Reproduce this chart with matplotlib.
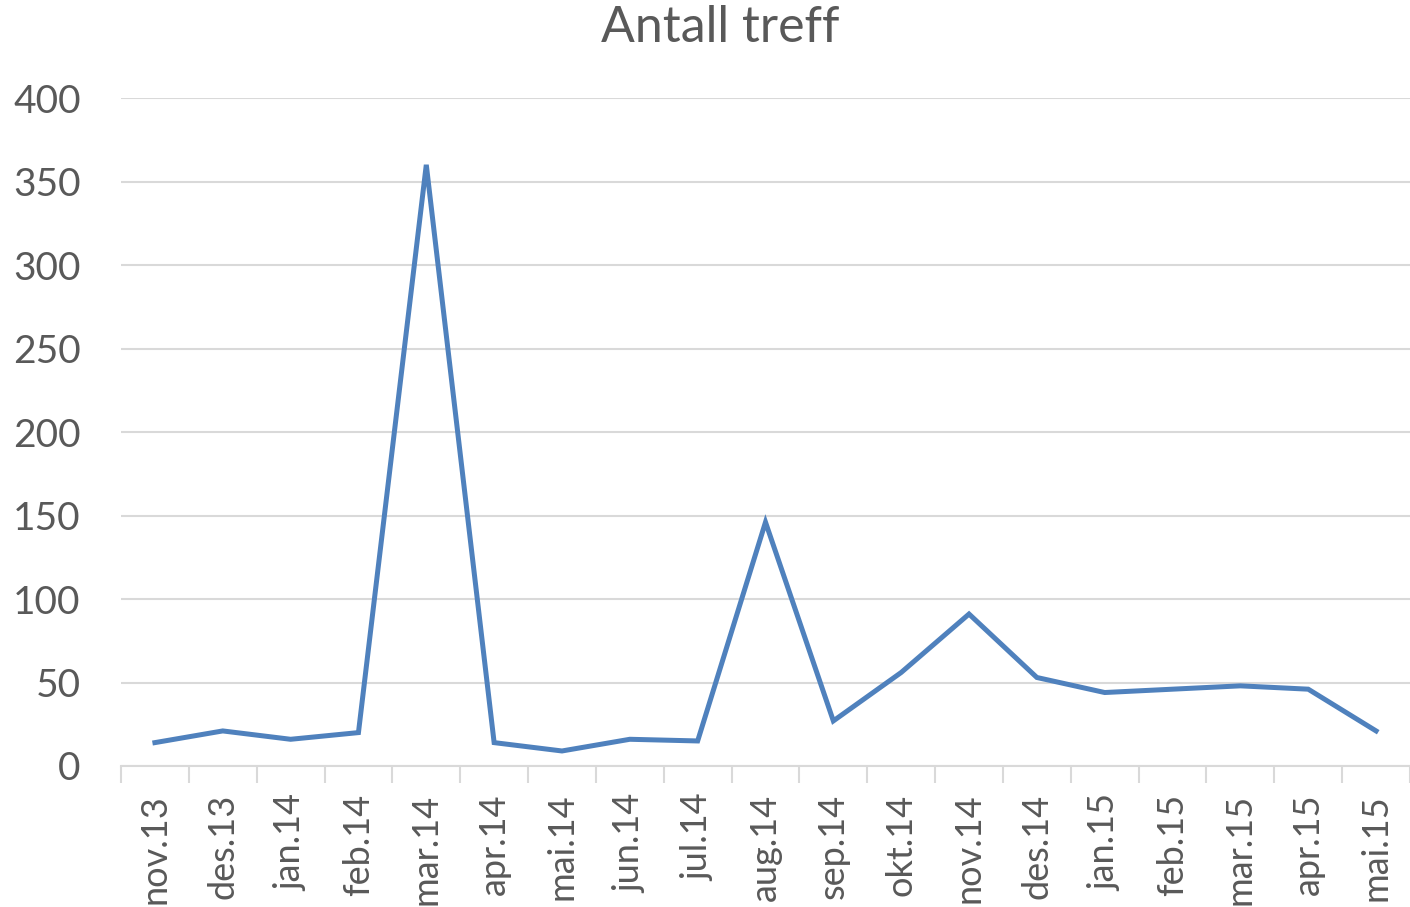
import matplotlib.pyplot as plt

months = ['nov.13', 'des.13', 'jan.14', 'feb.14', 'mar.14', 'apr.14', 'mai.14',
          'jun.14', 'jul.14', 'aug.14', 'sep.14', 'okt.14', 'nov.14', 'des.14',
          'jan.15', 'feb.15', 'mar.15', 'apr.15', 'mai.15']
hits = [14, 21, 16, 20, 360, 14, 9, 16, 15, 146, 27, 56, 91, 53, 44, 46, 48, 46, 21]

plt.rcParams['font.family'] = ['Lato', 'DejaVu Sans']
text_color = '#595959'

fig = plt.figure(figsize=(14.1, 9.07), dpi=100)
ax = fig.add_axes([121 / 1410, 1 - 766 / 907, 1289 / 1410, 668 / 907])

x = list(range(len(months)))
ax.plot(x, hits, color='#4f81bd', linewidth=3.6, solid_joinstyle='miter')

ax.set_xlim(-0.5, len(months) - 0.5)
ax.set_ylim(0, 400)
ax.set_yticks(range(0, 401, 50))
ax.set_yticklabels([str(v) for v in range(0, 401, 50)], fontsize=28, color=text_color)
ax.grid(axis='y', color='#d9d9d9', linewidth=1.5)
ax.set_axisbelow(True)

ax.set_xticks(x)
ax.set_xticklabels(months, rotation=90, fontsize=26, color=text_color)
ax.tick_params(axis='x', length=0, pad=20)
ax.tick_params(axis='y', length=0, pad=29)
# category boundary ticks
ax.set_xticks([i - 0.5 for i in range(len(months) + 1)], minor=True)
ax.tick_params(axis='x', which='minor', length=12, width=1.5, color='#d9d9d9')

for s in ['top', 'right', 'left']:
    ax.spines[s].set_visible(False)
ax.spines['bottom'].set_color('#d9d9d9')
ax.spines['bottom'].set_linewidth(1.5)

fig.text(720 / 1410, 1 - 28 / 907, 'Antall treff', ha='center', va='center',
         fontsize=36, color=text_color)

fig.savefig('out.png', dpi=100)
